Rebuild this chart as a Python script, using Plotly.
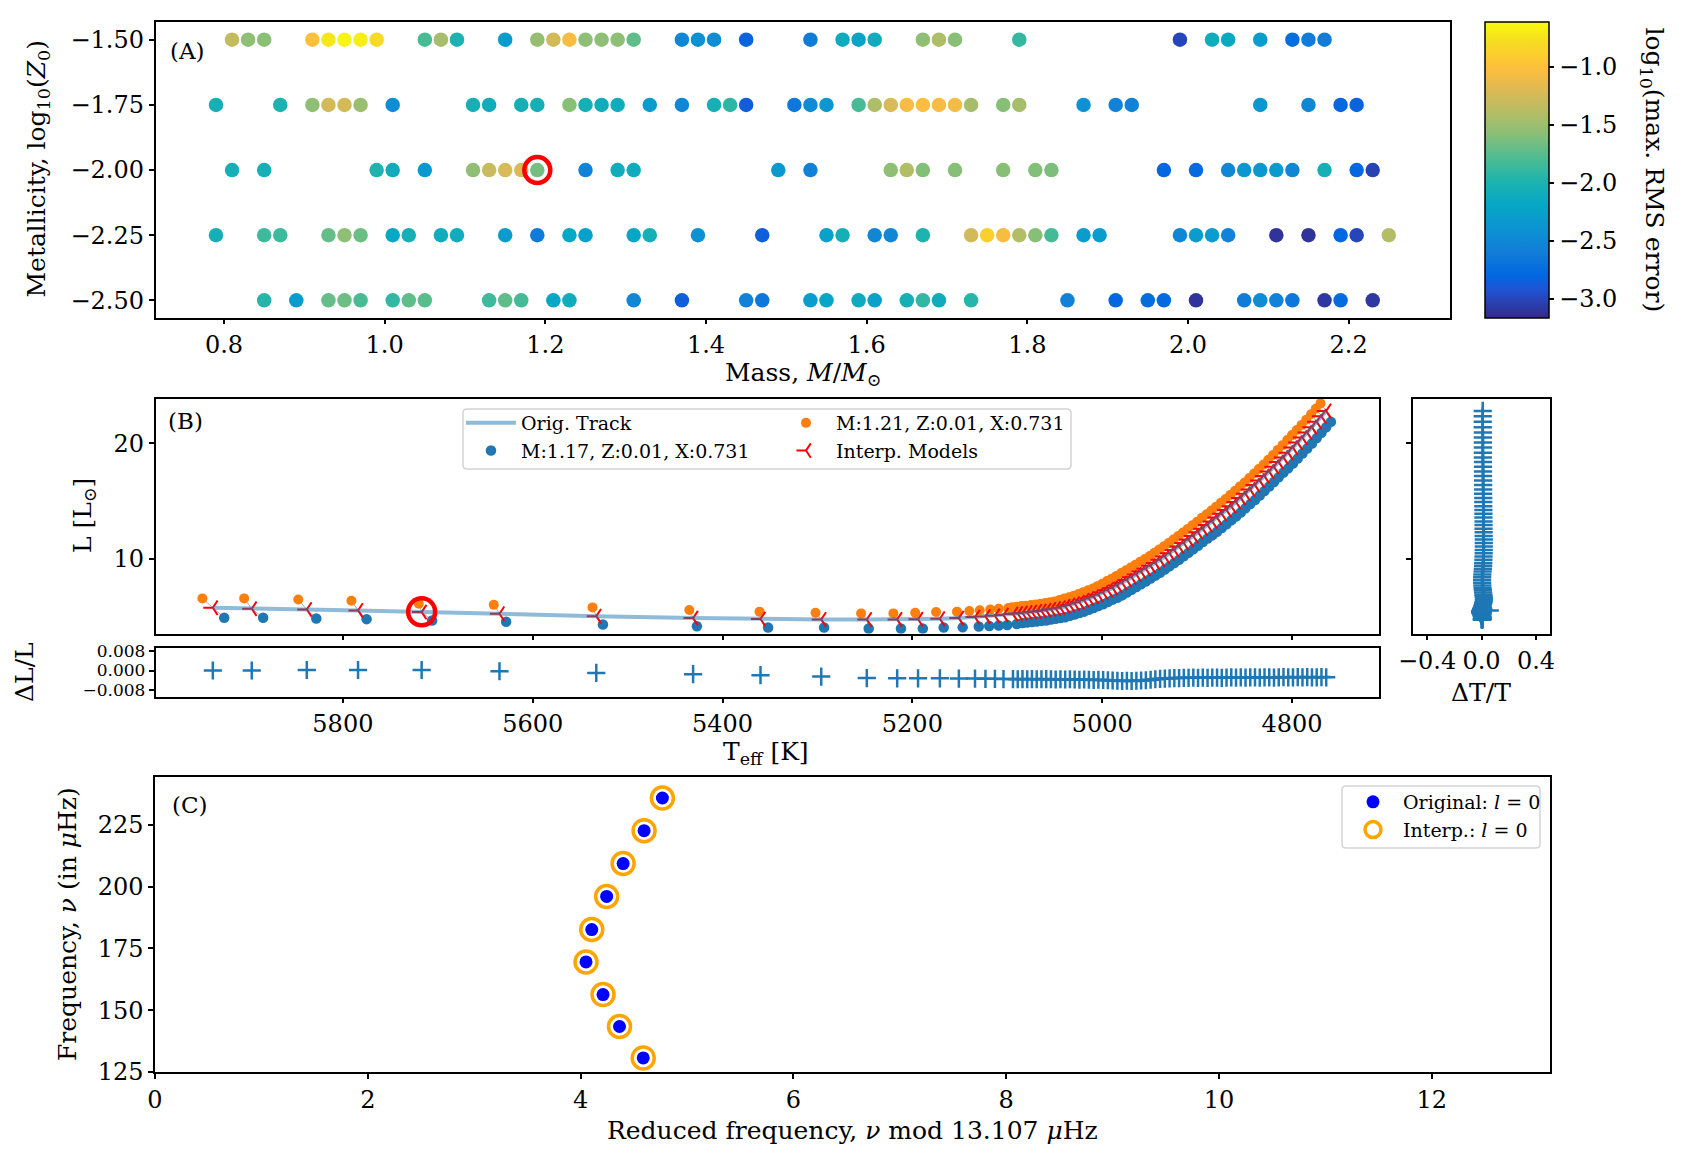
import plotly.graph_objects as go

W, H = 1682, 1162
FONT = "DejaVu Serif"


def fx(x):
    return x / W


def fy(y):
    return 1 - y / H


# ---------------- Panel A data: mass grid coloured by log10(max RMS error) ----------------
mass_z150 = [0.81, 0.83, 0.85, 0.91, 0.93, 0.95, 0.97, 0.99, 1.05, 1.07, 1.09, 1.15, 1.19, 1.21, 1.23, 1.25,
             1.27, 1.29, 1.31, 1.37, 1.39, 1.41, 1.45, 1.53, 1.57, 1.59, 1.61, 1.67, 1.69, 1.71, 1.79, 1.99,
             2.03, 2.05, 2.09, 2.13, 2.15, 2.17]
rms_z150 = [-1.32, -1.55, -1.57, -1.00, -0.72, -0.65, -0.68, -0.80, -1.80, -1.45, -2.00, -2.30, -1.52, -1.25,
            -1.05, -1.55, -1.55, -1.55, -1.72, -2.50, -2.40, -2.45, -2.82, -2.60, -2.12, -2.22, -2.10, -1.55,
            -1.42, -1.58, -1.88, -3.00, -2.10, -2.15, -2.30, -2.75, -2.60, -2.60]

mass_z175 = [0.79, 0.87, 0.91, 0.93, 0.95, 0.97, 1.01, 1.11, 1.13, 1.17, 1.19, 1.23, 1.25, 1.27, 1.29, 1.33,
             1.37, 1.41, 1.43, 1.45, 1.51, 1.53, 1.55, 1.59, 1.61, 1.63, 1.65, 1.67, 1.69, 1.71, 1.73, 1.77,
             1.79, 1.87, 1.91, 1.93, 2.09, 2.15, 2.19, 2.21]
rms_z175 = [-2.05, -2.00, -1.55, -1.25, -1.25, -1.50, -2.45, -2.05, -2.10, -2.05, -2.05, -1.58, -2.05, -2.10,
            -2.10, -2.30, -2.50, -2.05, -1.92, -2.85, -2.65, -2.45, -2.35, -1.80, -1.42, -1.22, -1.05, -1.02,
            -1.05, -1.08, -1.45, -1.58, -1.45, -2.40, -2.55, -2.55, -2.35, -2.50, -2.80, -2.82]

mass_z200 = [0.81, 0.85, 0.99, 1.01, 1.05, 1.11, 1.13, 1.15, 1.17, 1.19, 1.25, 1.29, 1.31, 1.49, 1.53, 1.63,
             1.65, 1.67, 1.71, 1.77, 1.81, 1.83, 1.97, 2.01, 2.05, 2.07, 2.09, 2.11, 2.13, 2.17, 2.21, 2.23]
rms_z200 = [-2.05, -2.05, -1.98, -2.10, -2.35, -1.55, -1.30, -1.22, -1.22, -1.65, -2.55, -2.10, -2.10, -2.35,
            -2.55, -1.55, -1.40, -1.60, -1.58, -1.58, -1.60, -1.62, -2.80, -2.78, -2.50, -2.35, -2.35, -2.32,
            -2.50, -2.05, -2.80, -3.02]

mass_z225 = [0.79, 0.85, 0.87, 0.93, 0.95, 0.97, 1.01, 1.03, 1.07, 1.09, 1.15, 1.19, 1.23, 1.25, 1.31, 1.33,
             1.39, 1.47, 1.55, 1.57, 1.61, 1.63, 1.67, 1.73, 1.75, 1.77, 1.79, 1.81, 1.83, 1.87, 1.89, 1.99,
             2.01, 2.03, 2.05, 2.11, 2.15, 2.19, 2.21, 2.25]
rms_z225 = [-2.05, -1.85, -1.85, -1.70, -1.55, -1.68, -2.18, -2.05, -2.10, -2.10, -2.30, -2.62, -2.18, -2.25,
            -2.20, -2.05, -2.40, -2.85, -2.25, -2.05, -2.50, -2.50, -1.98, -1.25, -0.88, -1.05, -1.40, -1.58,
            -1.82, -2.30, -2.30, -2.50, -2.30, -2.30, -2.55, -3.10, -3.10, -2.80, -3.00, -1.40]

mass_z250 = [0.85, 0.89, 0.93, 0.95, 0.97, 1.01, 1.03, 1.05, 1.13, 1.15, 1.17, 1.21, 1.23, 1.31, 1.37, 1.45,
             1.47, 1.53, 1.55, 1.59, 1.61, 1.65, 1.67, 1.69, 1.73, 1.85, 1.91, 1.95, 1.97, 2.01, 2.07, 2.09,
             2.11, 2.13, 2.17, 2.19, 2.23]
rms_z250 = [-1.95, -2.30, -1.70, -1.68, -1.80, -1.90, -1.72, -1.75, -1.85, -1.72, -1.82, -2.20, -2.10, -2.50,
            -2.85, -2.55, -2.65, -2.30, -2.20, -2.12, -2.25, -2.05, -1.90, -2.10, -1.95, -2.55, -2.80, -2.75,
            -2.78, -3.10, -2.60, -2.45, -2.55, -2.65, -3.08, -2.78, -3.08]

metallicity_rows = [-1.50, -1.75, -2.00, -2.25, -2.50]
highlight_mass = [1.19]
highlight_met = [-2.00]

# ---------------- Panel B data: HR-diagram tracks ----------------
T_interp = [5937, 5896, 5838, 5784, 5717, 5635, 5533, 5431, 5360, 5296, 5248, 5216, 5194, 5171,
            5151, 5134, 5123, 5113, 5104, 5094,
            5089, 5084, 5079, 5074, 5069, 5064, 5059, 5054, 5049, 5044,
            5039, 5034, 5029, 5024, 5019, 5014, 5009, 5004, 4999, 4994,
            4989, 4984, 4979, 4974, 4969, 4964, 4959, 4954, 4949, 4944,
            4939, 4934, 4929, 4924, 4919, 4914, 4909, 4904, 4899, 4894,
            4889, 4884, 4879, 4874, 4869, 4864, 4859, 4854, 4849, 4844,
            4839, 4834, 4829, 4824, 4819, 4814, 4809, 4804, 4799, 4794,
            4789, 4784, 4779, 4774, 4769, 4764]
L_interp = [5.75, 5.66, 5.60, 5.52, 5.37, 5.23, 5.02, 4.85, 4.77, 4.74, 4.74, 4.74, 4.75, 4.80,
            4.85, 4.94, 5.00, 5.05, 5.11, 5.20,
            5.245, 5.29, 5.335, 5.38, 5.425, 5.47, 5.54, 5.61, 5.68, 5.75,
            5.87, 5.99, 6.11, 6.23, 6.39, 6.55, 6.71, 6.87, 7.07, 7.27,
            7.47, 7.67, 7.91, 8.15, 8.39, 8.63, 8.88, 9.13, 9.38, 9.63,
            9.91, 10.19, 10.47, 10.75, 11.06, 11.36, 11.67, 11.97, 12.29, 12.60,
            12.92, 13.23, 13.56, 13.89, 14.22, 14.55, 14.91, 15.27, 15.63, 15.99,
            16.38, 16.77, 17.16, 17.55, 17.96, 18.37, 18.78, 19.19, 19.63, 20.06,
            20.50, 20.93, 21.40, 21.87, 22.34, 22.81]

T_m117 = [5925, 5884, 5828, 5775, 5706, 5628, 5526, 5427, 5352, 5293, 5246, 5212, 5189, 5167,
          5147, 5130, 5119, 5109, 5100, 5090,
          5084, 5079, 5074, 5069, 5064, 5059, 5054, 5049, 5044, 5039,
          5034, 5029, 5024, 5019, 5014, 5009, 5004, 4999, 4994, 4989,
          4984, 4979, 4974, 4969, 4964, 4959, 4954, 4949, 4944, 4939,
          4934, 4929, 4924, 4919, 4914, 4909, 4904, 4899, 4894, 4889,
          4884, 4879, 4874, 4869, 4864, 4859, 4854, 4849, 4844, 4839,
          4834, 4829, 4824, 4819, 4814, 4809, 4804, 4799, 4794, 4789,
          4784, 4779, 4774, 4769, 4764, 4759]
L_m117 = [4.88, 4.88, 4.82, 4.76, 4.65, 4.53, 4.30, 4.15, 4.04, 4.04, 3.95, 3.95, 3.95, 4.04,
          4.05, 4.12, 4.17, 4.21, 4.26, 4.34,
          4.43, 4.47, 4.52, 4.56, 4.61, 4.65, 4.72, 4.79, 4.86, 4.93,
          5.05, 5.17, 5.29, 5.41, 5.57, 5.73, 5.89, 6.05, 6.25, 6.45,
          6.62, 6.82, 7.06, 7.30, 7.54, 7.78, 8.03, 8.28, 8.53, 8.78,
          9.06, 9.34, 9.62, 9.90, 10.21, 10.51, 10.82, 11.12, 11.44, 11.75,
          12.02, 12.33, 12.66, 12.99, 13.32, 13.65, 14.01, 14.37, 14.73, 15.09,
          15.48, 15.87, 16.26, 16.65, 17.06, 17.47, 17.83, 18.24, 18.68, 19.11,
          19.55, 19.98, 20.45, 20.92, 21.39, 21.86]

T_m121 = [5948, 5904, 5847, 5791, 5720, 5641, 5537, 5435, 5361, 5302, 5254, 5220, 5197, 5175,
          5153, 5140, 5129, 5118, 5109, 5099,
          5095, 5090, 5085, 5080, 5075, 5070, 5065, 5060, 5055, 5050,
          5045, 5040, 5035, 5030, 5025, 5020, 5015, 5010, 5005, 5000,
          4995, 4990, 4985, 4980, 4975, 4970, 4965, 4960, 4955, 4950,
          4945, 4940, 4935, 4930, 4925, 4920, 4915, 4910, 4905, 4900,
          4895, 4890, 4885, 4880, 4875, 4870, 4865, 4860, 4855, 4850,
          4845, 4840, 4835, 4830, 4825, 4820, 4815, 4810, 4805, 4800,
          4795, 4790, 4785, 4780, 4775, 4770]
L_m121 = [6.56, 6.56, 6.47, 6.36, 6.10, 6.00, 5.78, 5.55, 5.41, 5.32, 5.26, 5.26, 5.32, 5.38,
          5.41, 5.47, 5.53, 5.60, 5.66, 5.73,
          5.80, 5.84, 5.89, 5.93, 5.98, 6.02, 6.09, 6.16, 6.23, 6.30,
          6.42, 6.54, 6.66, 6.78, 6.94, 7.10, 7.26, 7.42, 7.62, 7.82,
          8.07, 8.27, 8.51, 8.75, 8.99, 9.23, 9.48, 9.73, 9.98, 10.23,
          10.51, 10.79, 11.07, 11.35, 11.66, 11.96, 12.27, 12.57, 12.89, 13.20,
          13.54, 13.85, 14.18, 14.51, 14.84, 15.17, 15.53, 15.89, 16.25, 16.61,
          17.00, 17.39, 17.78, 18.17, 18.58, 18.99, 19.43, 19.84, 20.28, 20.71,
          21.15, 21.58, 22.05, 22.52, 22.99, 23.46]

dL_over_L = [0.0000, 0.0000, 0.0002, 0.0002, 0.0002, -0.0003, -0.0010, -0.0015, -0.0019, -0.0025,
             -0.0031, -0.0032, -0.0032, -0.0032,
             -0.0033, -0.0033, -0.0034, -0.0034, -0.0035, -0.0035,
             -0.0036, -0.0035, -0.0036, -0.0035, -0.0036, -0.0036, -0.0035, -0.0036, -0.0037, -0.0036,
             -0.0037, -0.0036, -0.0037, -0.0038, -0.0037, -0.0038, -0.0039, -0.0038, -0.0039, -0.0040,
             -0.0041, -0.0042, -0.0043, -0.0042, -0.0043, -0.0042, -0.0041, -0.0040, -0.0038, -0.0036,
             -0.0034, -0.0033, -0.0032, -0.0031, -0.0031, -0.0030, -0.0030, -0.0029, -0.0030, -0.0029,
             -0.0030, -0.0029, -0.0029, -0.0030, -0.0029, -0.0028, -0.0029, -0.0028, -0.0029, -0.0028,
             -0.0028, -0.0029, -0.0028, -0.0028, -0.0029, -0.0028, -0.0027, -0.0028, -0.0028, -0.0027,
             -0.0028, -0.0027, -0.0028, -0.0028, -0.0027, -0.0028]

dT_over_T = [0.010, 0.012, 0.012, 0.060, 0.010, 0.008, 0.006, 0.004, 0.003, 0.002, 0.004, 0.005, 0.006, 0.007,
             0.008, 0.006, 0.004, 0.002, 0.000, -0.002,
             -0.004, -0.006, -0.008, -0.010, -0.009, -0.007, -0.005, -0.003, 0.000, 0.003,
             0.006, 0.009, 0.012, 0.015, 0.017, 0.018, 0.016, 0.014, 0.012, 0.010,
             0.008, 0.006, 0.005, 0.004, 0.005, 0.006, 0.008, 0.010, 0.012, 0.013,
             0.014, 0.015, 0.016, 0.016, 0.017, 0.017, 0.017, 0.016, 0.016, 0.015,
             0.015, 0.015, 0.014, 0.014, 0.014, 0.013, 0.013, 0.013, 0.012, 0.012,
             0.012, 0.012, 0.011, 0.011, 0.011, 0.011, 0.010, 0.010, 0.010, 0.010,
             0.010, 0.010, 0.009, 0.009, 0.009, 0.009]

highlight_T = [5717]
highlight_L = [5.40]

# ---------------- Panel C data: echelle diagram ----------------
nu_mod_orig = [4.589, 4.366, 4.211, 4.051, 4.105, 4.245, 4.400, 4.597, 4.769]
nu_orig = [130.7, 143.4, 156.3, 169.5, 182.6, 196.0, 209.3, 222.6, 235.8]
nu_mod_interp = [4.589, 4.366, 4.211, 4.051, 4.105, 4.245, 4.400, 4.597, 4.769]
nu_interp = [130.7, 143.4, 156.3, 169.5, 182.6, 196.0, 209.3, 222.6, 235.8]

# parula-like colour scale
parula = [
    [0.0, "#352a87"], [0.0952, "#2053d4"], [0.1429, "#0268e1"], [0.2222, "#127dd8"],
    [0.3016, "#0c93d2"], [0.381, "#06a7c6"], [0.4603, "#1db3af"], [0.5397, "#4dbc92"],
    [0.619, "#87bf77"], [0.6984, "#b7bd64"], [0.7778, "#e1b952"], [0.8413, "#fdbe3d"],
    [0.8889, "#fccd2e"], [0.9365, "#f5de21"], [1.0, "#f9fb0e"],
]
CMIN, CMAX = -3.16, -0.61

TICK_SIZE = 24
TITLE_SIZE = 25

fig = go.Figure()

# ---------- Panel A ----------
rows_mass = [mass_z150, mass_z175, mass_z200, mass_z225, mass_z250]
rows_rms = [rms_z150, rms_z175, rms_z200, rms_z225, rms_z250]
a_x, a_y, a_c = [], [], []
for z, ms, rs in zip(metallicity_rows, rows_mass, rows_rms):
    a_x += ms
    a_y += [z] * len(ms)
    a_c += rs

fig.add_trace(go.Scatter(
    x=a_x, y=a_y, mode="markers", xaxis="x", yaxis="y", showlegend=False,
    marker=dict(size=14.5, color=a_c, colorscale=parula, cmin=CMIN, cmax=CMAX, line=dict(width=0),
                colorbar=dict(
                    x=fx(1485), xanchor="left", xref="paper", xpad=0,
                    y=fy(21.5), yanchor="top", yref="paper", ypad=0,
                    len=296, lenmode="pixels", thickness=64, thicknessmode="pixels",
                    outlinewidth=1.5, outlinecolor="black",
                    ticks="outside", ticklen=5, tickwidth=1.5, tickcolor="black",
                    tickvals=[-3.0, -2.5, -2.0, -1.5, -1.0],
                    ticktext=["\u22123.0", "\u22122.5", "\u22122.0", "\u22121.5", "\u22121.0"],
                    tickfont=dict(family=FONT, size=TICK_SIZE, color="black"),
                )),
))
fig.add_trace(go.Scatter(
    x=highlight_mass, y=highlight_met, mode="markers", xaxis="x", yaxis="y", showlegend=False,
    marker=dict(symbol="circle-open", size=26, color="red", line=dict(width=4.5)),
))

# ---------- Panel B ----------
con_x, con_y = [], []
for to, ti, tb, lo, li, lb in zip(T_m121, T_interp, T_m117, L_m121, L_interp, L_m117):
    con_x += [to, ti, tb, None]
    con_y += [lo, li, lb, None]
fig.add_trace(go.Scatter(
    x=con_x, y=con_y, mode="lines", xaxis="x2", yaxis="y2", showlegend=False,
    line=dict(color="rgba(110,110,110,0.55)", width=1),
))
fig.add_trace(go.Scatter(
    x=T_m117, y=L_m117, mode="markers", xaxis="x2", yaxis="y2",
    name="M:1.17, Z:0.01, X:0.731", legend="legend", legendrank=2, legendgroup="b2",
    marker=dict(size=10.5, color="#1f77b4", line=dict(width=0)),
))
fig.add_trace(go.Scatter(
    x=T_m121, y=L_m121, mode="markers", xaxis="x2", yaxis="y2",
    name="M:1.21, Z:0.01, X:0.731", legend="legend2", legendrank=1, legendgroup="o1",
    marker=dict(size=10, color="#ff7f0e", line=dict(width=0)),
))
fig.add_trace(go.Scatter(
    x=T_interp, y=L_interp, mode="markers", xaxis="x2", yaxis="y2",
    name="Interp. Models", legend="legend2", legendrank=2, legendgroup="o2",
    marker=dict(symbol="y-left", size=12, color="red", line=dict(color="red", width=2)),
))
fig.add_trace(go.Scatter(
    x=T_interp, y=L_interp, mode="lines", xaxis="x2", yaxis="y2",
    name="Orig. Track", legend="legend", legendrank=1, legendgroup="b1",
    line=dict(color="rgba(31,119,180,0.5)", width=4),
))
fig.add_trace(go.Scatter(
    x=highlight_T, y=highlight_L, mode="markers", xaxis="x2", yaxis="y2", showlegend=False,
    marker=dict(symbol="circle-open", size=27, color="red", line=dict(width=4.5)),
))

# residuals
fig.add_trace(go.Scatter(
    x=T_interp, y=dL_over_L, mode="markers", xaxis="x3", yaxis="y3", showlegend=False,
    marker=dict(symbol="cross-thin", size=13, color="#1f77b4", line=dict(color="#1f77b4", width=2.5)),
))
fig.add_trace(go.Scatter(
    x=dT_over_T, y=L_interp, mode="markers", xaxis="x4", yaxis="y4", showlegend=False,
    marker=dict(symbol="cross-thin", size=13, color="#1f77b4", line=dict(color="#1f77b4", width=2.5)),
))

# ---------- Panel C ----------
fig.add_trace(go.Scatter(
    x=nu_mod_interp, y=nu_interp, mode="markers", xaxis="x5", yaxis="y5",
    name="Interp.: <i>l</i> = 0", legend="legend3", legendrank=2, legendgroup="c2",
    marker=dict(symbol="circle-open", size=22, color="#ffa500", line=dict(width=3.5)),
))
fig.add_trace(go.Scatter(
    x=nu_mod_orig, y=nu_orig, mode="markers", xaxis="x5", yaxis="y5",
    name="Original: <i>l</i> = 0", legend="legend3", legendrank=1, legendgroup="c1",
    marker=dict(size=13, color="blue", line=dict(width=0)),
))

tickfont = dict(family=FONT, size=TICK_SIZE, color="black")
common = dict(showline=True, linecolor="black", linewidth=1.5, mirror=True, ticks="outside",
              ticklen=5, tickwidth=1.5, tickcolor="black", showgrid=False, zeroline=False,
              tickfont=tickfont, automargin=False)

T_ticks = [5800, 5600, 5400, 5200, 5000, 4800]
T_range = [5997.4, 4708.9]
L_range = [3.5, 23.84]

layout = dict(
    width=W, height=H, margin=dict(l=0, r=0, t=0, b=0, pad=0, autoexpand=False),
    paper_bgcolor="white", plot_bgcolor="white",
    font=dict(family=FONT, color="black"),
    xaxis=dict(common, domain=[fx(155.5), fx(1450)], range=[0.7147, 2.3262], anchor="y",
               tickvals=[0.8, 1.0, 1.2, 1.4, 1.6, 1.8, 2.0, 2.2],
               ticktext=["0.8", "1.0", "1.2", "1.4", "1.6", "1.8", "2.0", "2.2"]),
    yaxis=dict(common, domain=[fy(317.5), fy(21.5)], range=[-2.566, -1.430], anchor="x",
               tickvals=[-2.5, -2.25, -2.0, -1.75, -1.5],
               ticktext=["\u22122.50", "\u22122.25", "\u22122.00", "\u22121.75", "\u22121.50"]),
    xaxis2=dict(common, domain=[fx(155.5), fx(1378.5)], range=T_range, anchor="y2",
                tickvals=T_ticks, showticklabels=False),
    yaxis2=dict(common, domain=[fy(633.7), fy(399)], range=L_range, anchor="x2",
                tickvals=[10, 20], ticktext=["10", "20"]),
    xaxis3=dict(common, domain=[fx(155.5), fx(1378.5)], range=T_range, anchor="y3",
                tickvals=T_ticks, ticktext=[str(t) for t in T_ticks]),
    yaxis3=dict(common, domain=[fy(696.5), fy(647.5)], range=[-0.01067, 0.00944], anchor="x3",
                tickvals=[-0.008, 0.0, 0.008], ticktext=["\u22120.008", "0.000", "0.008"],
                tickfont=dict(family=FONT, size=17, color="black")),
    xaxis4=dict(common, domain=[fx(1413), fx(1550)], range=[-0.503, 0.503], anchor="y4",
                tickvals=[-0.4, 0.0, 0.4], ticktext=["\u22120.4", "0.0", "0.4"]),
    yaxis4=dict(common, domain=[fy(633.7), fy(399)], range=L_range, anchor="x4",
                tickvals=[10, 20], showticklabels=False),
    xaxis5=dict(common, domain=[fx(155), fx(1549.5)], range=[0, 13.107], anchor="y5",
                tickvals=[0, 2, 4, 6, 8, 10, 12], ticktext=["0", "2", "4", "6", "8", "10", "12"]),
    yaxis5=dict(common, domain=[fy(1072), fy(776.5)], range=[125.0, 244.5], anchor="x5",
                tickvals=[125, 150, 175, 200, 225], ticktext=["125", "150", "175", "200", "225"]),
)

leg_common = dict(bgcolor="rgba(0,0,0,0)", borderwidth=0, font=dict(family=FONT, size=19, color="black"),
                  xanchor="left", yanchor="top", orientation="v", itemwidth=50, tracegroupgap=4,
                  traceorder="normal")
layout["legend"] = dict(leg_common, x=fx(461), y=fy(404))
layout["legend2"] = dict(leg_common, x=fx(776), y=fy(404))
layout["legend3"] = dict(leg_common, x=fx(1343), y=fy(783))


def ann(text, x, y, size=TITLE_SIZE, angle=0, xanchor="center"):
    return dict(text=text, x=fx(x), y=fy(y), xref="paper", yref="paper", showarrow=False,
                xanchor=xanchor, yanchor="middle", textangle=angle,
                font=dict(family=FONT, size=size, color="black"))


layout["annotations"] = [
    ann("(A)", 168, 51, size=23, xanchor="left"),
    ann("(B)", 166, 421, size=23, xanchor="left"),
    ann("(C)", 170, 805, size=23, xanchor="left"),
    ann("Metallicity, log<sub>10</sub>(<i>Z</i><sub>0</sub>)", 38, 169.5, angle=-90),
    ann("Mass, <i>M</i>/<i>M</i><sub>\u2299</sub>", 802.75, 374),
    ann("log<sub>10</sub>(max. RMS error)", 1652, 169.5, angle=90),
    ann("L [L<sub>\u2299</sub>]", 84, 516, angle=-90),
    ann("\u0394L/L", 24, 672, angle=-90),
    ann("T<sub>eff</sub> [K]", 766, 753),
    ann("\u0394T/T", 1481, 692),
    ann("Frequency, <i>\u03bd</i> (in <i>\u03bc</i>Hz)", 67, 924, angle=-90),
    ann("Reduced frequency, <i>\u03bd</i> mod 13.107 <i>\u03bc</i>Hz", 852, 1130),
]


def rounded_box(x0, y0, x1, y1, r=4):
    X0, X1 = fx(x0), fx(x1)
    Y0, Y1 = fy(y0), fy(y1)
    rx, ry = r / W, r / H
    return (f"M {X0 + rx},{Y0} L {X1 - rx},{Y0} Q {X1},{Y0} {X1},{Y0 - ry} "
            f"L {X1},{Y1 + ry} Q {X1},{Y1} {X1 - rx},{Y1} L {X0 + rx},{Y1} "
            f"Q {X0},{Y1} {X0},{Y1 + ry} L {X0},{Y0 - ry} Q {X0},{Y0} {X0 + rx},{Y0} Z")


layout["shapes"] = [
    dict(type="path", path=rounded_box(463, 409, 1071, 469), xref="paper", yref="paper",
         line=dict(color="#d3d3d3", width=1.5), fillcolor="rgba(255,255,255,0.8)", layer="above"),
    dict(type="path", path=rounded_box(1342, 786, 1540, 848), xref="paper", yref="paper",
         line=dict(color="#d3d3d3", width=1.5), fillcolor="rgba(255,255,255,0.8)", layer="above"),
]

fig.update_layout(layout)
fig.write_html("out.html")
